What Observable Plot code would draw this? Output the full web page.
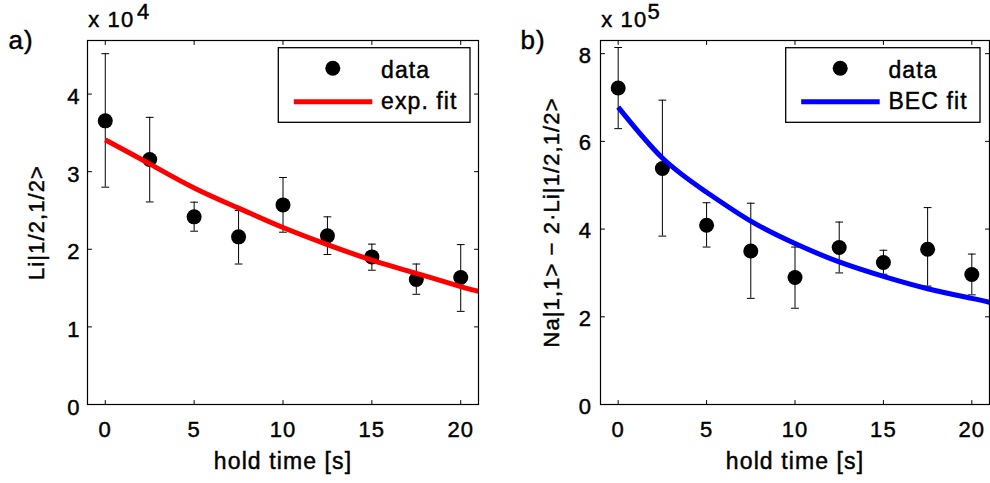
<!DOCTYPE html>
<html><head><meta charset="utf-8">
<script src="https://cdn.jsdelivr.net/npm/d3@7"></script>
<script src="https://cdn.jsdelivr.net/npm/@observablehq/plot@0.6"></script>
<style>
html,body{margin:0;padding:0;background:#fff;}
#wrap{display:flex;width:990px;height:483px;overflow:hidden;background:#fff;}
#wrap svg{display:block;flex:none;}
#wrap svg text{stroke:#000;stroke-width:0.45px;}
</style></head><body><div id="wrap"></div>
<script>
// hold time [s]
const holdTime = [0, 2.5, 5, 7.5, 10, 12.5, 15, 17.5, 20];
// panel a) Li|1/2,1/2>  (x 10^4)
const liCounts  = [3.655, 3.157, 2.418, 2.16, 2.572, 2.173, 1.902, 1.61, 1.637];
const liErrLow  = [2.80, 2.61, 2.233, 1.81, 2.22, 1.933, 1.73, 1.42, 1.20];
const liErrHigh = [4.52, 3.70, 2.607, 2.50, 2.925, 2.418, 2.066, 1.81, 2.06];
const liFitTime = [0, 2.5, 5, 7.5, 10, 12.5, 15, 17.5, 20, 21];
const liFit     = [3.41, 3.10, 2.79, 2.53, 2.28, 2.06, 1.86, 1.69, 1.52, 1.46];
// panel b) Na|1,1> - 2*Li|1/2,1/2>  (x 10^5)
const naCounts  = [7.217, 5.38, 4.087, 3.50, 2.895, 3.58, 3.237, 3.54, 2.963];
const naErrLow  = [6.29, 3.84, 3.59, 2.42, 2.195, 3.00, 2.97, 2.70, 2.50];
const naErrHigh = [8.14, 6.94, 4.60, 4.59, 3.59, 4.16, 3.517, 4.49, 3.43];
const naFitTime = [0, 2.5, 5, 7.5, 10, 12.5, 15, 17.5, 20, 21];
const naFit     = [6.78, 5.62, 4.84, 4.18, 3.67, 3.25, 2.92, 2.64, 2.42, 2.33];
// ticks
const xTicks = [0, 5, 10, 15, 20];
const liYTicks = [0, 1, 2, 3, 4];
const naYTicks = [0, 2, 4, 6, 8];

const tickShape = {draw(ctx, l) { ctx.moveTo(0, 0); ctx.lineTo(0, -l); }};

function legendMark({boxW, inset, color, label}) {
  return (index, scales, values, dims) => {
    const right = dims.width - dims.marginRight - inset;
    const left = right - boxW, top = dims.marginTop + 7.7;
    const g = d3.create("svg:g");
    g.append("rect").attr("x", left).attr("y", top).attr("width", boxW).attr("height", 74.6)
      .attr("fill", "#fff").attr("stroke", "#000").attr("stroke-width", 1.3);
    g.append("circle").attr("cx", left + 54.5).attr("cy", top + 20.6).attr("r", 7.5).attr("fill", "#000");
    g.append("line").attr("x1", left + 15.5).attr("x2", left + 94).attr("y1", top + 54).attr("y2", top + 54)
      .attr("stroke", color).attr("stroke-width", 5);
    g.append("text").attr("x", left + 102.7).attr("y", top + 30.6).attr("text-anchor", "start")
      .attr("font-size", 23).attr("fill", "#000").text("data");
    g.append("text").attr("x", left + 102.7).attr("y", top + 60.9).attr("text-anchor", "start")
      .attr("font-size", 23).attr("fill", "#000").text(label);
    return g.node();
  };
}

function panel(o) {
  const pts = holdTime.map((t, i) => ({t, v: o.counts[i], lo: o.lo[i], hi: o.hi[i]}));
  const fitPts = o.fitT.map((t, i) => ({t, v: o.fit[i]}));
  const tk = {shape: tickShape, stroke: "#000", strokeWidth: 1, length: 4, anchor: "start"};
  return Plot.plot({
    width: 495, height: 483,
    marginLeft: o.marginLeft, marginRight: o.marginRight, marginTop: 40, marginBottom: 79,
    style: {fontFamily: "'Liberation Sans', Arial, sans-serif", fontSize: "22px", color: "#000",
            background: "#fff", overflow: "visible", letterSpacing: "1.1px"},
    x: {domain: [-1, 21]},
    y: {domain: o.yDomain},
    marks: [
      Plot.ruleX(pts, {x: "t", y1: "lo", y2: "hi", stroke: "#000", strokeWidth: 1}),
      Plot.vector(pts, {x: "t", y: "lo", length: 7, rotate: 90, anchor: "middle", shape: tickShape, stroke: "#000", strokeWidth: 1}),
      Plot.vector(pts, {x: "t", y: "hi", length: 7, rotate: 90, anchor: "middle", shape: tickShape, stroke: "#000", strokeWidth: 1}),
      Plot.dot(pts, {x: "t", y: "v", r: 7.5, fill: "#000", stroke: "none"}),
      Plot.line(fitPts, {x: "t", y: "v", stroke: o.color, strokeWidth: 5, curve: "natural", strokeLinecap: "butt"}),
      Plot.frame({stroke: "#000", strokeWidth: 1.2}),
      Plot.vector(xTicks, {x: d => d, frameAnchor: "bottom", ...tk}),
      Plot.vector(xTicks, {x: d => d, frameAnchor: "top", rotate: 180, ...tk}),
      Plot.vector(o.yTicks, {y: d => d, frameAnchor: "left", rotate: 90, ...tk}),
      Plot.vector(o.yTicks, {y: d => d, frameAnchor: "right", rotate: -90, ...tk}),
      Plot.axisX(xTicks, {tickSize: 0, tickPadding: 17, label: null, tickFormat: d => String(d)}),
      Plot.axisY(o.yTicks, {tickSize: 0, tickPadding: o.yTickPad, label: null, dy: o.yTickDy, tickFormat: d => String(d)}),
      Plot.text(["hold time [s]"], {frameAnchor: "bottom", dy: 64.3, lineAnchor: "bottom", fontSize: 23}),
      Plot.text([o.yLabel], {frameAnchor: "left", dx: o.yLabelDx, rotate: -90, textAnchor: "middle", lineAnchor: "bottom", fontSize: 22}),
      Plot.text([o.letter], {frameAnchor: "top-left", dx: o.letterDx, dy: 8.5, textAnchor: "start", lineAnchor: "bottom", fontSize: 26}),
      Plot.text(["x 10"], {frameAnchor: "top-left", dx: 0.8, dy: -13.3, textAnchor: "start", lineAnchor: "bottom", fontSize: 22}),
      Plot.text([o.exponent], {frameAnchor: "top-left", dx: o.expDx, dy: -21.7, textAnchor: "start", lineAnchor: "bottom", fontSize: 22}),
      legendMark({boxW: o.legendW, inset: o.legendInset, color: o.color, label: o.fitLabel})
    ]
  });
}

const wrap = document.getElementById("wrap");
wrap.append(panel({
  letter: "a)", letterDx: -79, exponent: "4", expDx: 49.5,
  yLabel: "Li|1/2,1/2>", yLabelDx: -43.5,
  yDomain: [0, 4.69], yTicks: liYTicks, yTickPad: 7, yTickDy: 3,
  counts: liCounts, lo: liErrLow, hi: liErrHigh, fitT: liFitTime, fit: liFit,
  color: "#ff0000", fitLabel: "exp. fit",
  marginLeft: 87, marginRight: 17, legendW: 191.7, legendInset: 8
}));
wrap.append(panel({
  letter: "b)", letterDx: -80, exponent: "5", expDx: 47,
  yLabel: "Na|1,1> \u2212 2\u00b7Li|1/2,1/2>", yLabelDx: -42,
  yDomain: [0, 8.3], yTicks: naYTicks, yTickPad: 8.5, yTickDy: 2,
  counts: naCounts, lo: naErrLow, hi: naErrHigh, fitT: naFitTime, fit: naFit,
  color: "#0000ff", fitLabel: "BEC fit",
  marginLeft: 105, marginRight: 1, legendW: 194.3, legendInset: 9
}));
</script>
</body></html>
